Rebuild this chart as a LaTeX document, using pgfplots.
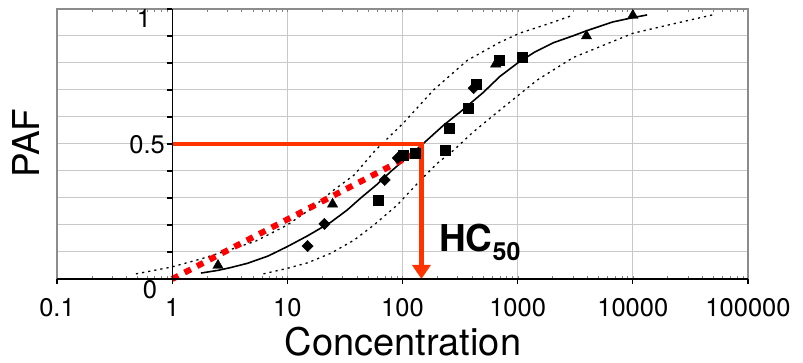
\documentclass[border=0pt]{standalone}
\usepackage{fontspec}
\setmainfont{TeX Gyre Heros}
\usepackage{pgfplots}
\pgfplotsset{compat=1.18}
\usetikzlibrary{arrows.meta}
\definecolor{hcred}{RGB}{255,51,0}
\definecolor{framegray}{RGB}{140,140,140}
\definecolor{gridgray}{RGB}{200,200,200}
\begin{document}
\begin{tikzpicture}[x=1pt,y=1pt]
\useasboundingbox (-57,-84) rectangle (746,279);
\begin{axis}[
  at={(0pt,0pt)}, anchor=south west,
  scale only axis, width=691pt, height=270pt,
  xmode=log, xmin=0.1, xmax=100000, ymin=0, ymax=1,
  clip=false,
  axis line style={draw=framegray, line width=1.3pt},
  xtick={0.1,1,10,100,1000,10000,100000},
  xticklabels={0.1,1,10,100,1000,10000,100000},
  ytick={0,0.1,0.2,0.3,0.4,0.5,0.6,0.7,0.8,0.9,1},
  yticklabels={},
  major tick length=0pt,
  grid=major, grid style={draw=gridgray, line width=1pt},
  xticklabel style={font=\fontsize{25.5}{26}\selectfont, anchor=north, inner sep=0pt, yshift=-19pt},
  /pgf/number format/assume math mode=true,
]
% upper confidence band
\addplot[black, line width=1.3pt, dash pattern=on 2.2pt off 4pt] coordinates {
(0.485,0.019) (0.98,0.044) (1.8,0.075) (3,0.105) (5.3,0.14) (10,0.20) (16,0.26)
(25.4,0.33) (38,0.385) (58.5,0.478) (102,0.578) (186,0.70) (366,0.81) (710,0.878)
(1050,0.911) (2000,0.95) (2880,0.974)};
% lower confidence band
\addplot[black, line width=1.3pt, dash pattern=on 2.2pt off 4pt] coordinates {
(6.2,0.019) (10.1,0.04) (15,0.06) (23.8,0.095) (38,0.144) (56.5,0.20) (90,0.274)
(144,0.367) (200,0.428) (280,0.478) (400,0.54) (620,0.607) (1480,0.737) (3030,0.82)
(10000,0.91) (20000,0.94) (49000,0.978)};
% fitted SSD
\addplot[black, line width=1.6pt] coordinates {
(1.78,0.022) (2.5,0.032) (3.2,0.042) (4.5,0.058) (6.8,0.085) (10,0.12) (15,0.16)
(23.8,0.21) (33,0.255) (43.4,0.30) (60,0.35) (80,0.40) (110,0.45) (150,0.50)
(228,0.57) (320,0.62) (500,0.69) (700,0.75) (1000,0.80) (1400,0.84) (2040,0.875)
(3000,0.90) (4000,0.92) (6700,0.952) (10000,0.968) (13300,0.978)};
% red dotted line
\addplot[red, line width=6pt, dash pattern=on 7pt off 7pt] coordinates {(1,0) (135,0.47)};
% markers
\addplot[only marks, mark=triangle*, mark size=6pt, black] coordinates {
(2.5,0.05) (24.7,0.277) (645,0.796) (3960,0.90) (10000,0.976)};
\addplot[only marks, mark=square*, mark options={rotate=45}, mark size=4pt, black] coordinates {
(15,0.122) (21,0.204) (70,0.367) (91,0.448) (415,0.707)};
\addplot[only marks, mark=square*, mark size=5pt, black] coordinates {
(61,0.293) (102,0.46) (130,0.467) (233,0.478) (252,0.559) (375,0.633) (440,0.72) (690,0.81) (1100,0.822)};
% HC50 indicator
\addplot[hcred, line width=4.5pt, line join=miter, -{Triangle[width=18pt,length=14pt]}] coordinates {(1,0.5) (146,0.5) (146,0)};
\end{axis}
% black axes
\draw[black, line width=1.2pt] (0,0) -- (691,0);
\foreach \k in {0,...,6} \draw[black, line width=1.2pt] (\k*691/6,0) -- ++(0,-5);
\draw[black, line width=1.2pt] (115.17,0) -- (115.17,270);
\foreach \k in {0,...,10} \draw[black, line width=1.2pt] (115.17,\k*27) -- ++(-5,0);
% labels
\node[font=\fontsize{25.5}{26}\selectfont, inner sep=0pt] at (87,261) {1};
\node[font=\fontsize{25.5}{26}\selectfont, inner sep=0pt, anchor=east] at (108,134.5) {0.5};
\node[font=\fontsize{25.5}{26}\selectfont, inner sep=0pt] at (93,-11) {0};
\node[rotate=90, font=\fontsize{37}{37}\selectfont, inner sep=0pt] at (-30.5,136) {PAF};
\node[font=\fontsize{38}{38}\selectfont, anchor=base, inner sep=0pt] at (346,-77) {Concentration};
\node[anchor=base west, inner sep=0pt] at (382,27) {\fontsize{37}{37}\selectfont\bfseries HC\raisebox{-9pt}{\fontsize{25}{25}\selectfont\bfseries 50}};
\end{tikzpicture}
\end{document}
